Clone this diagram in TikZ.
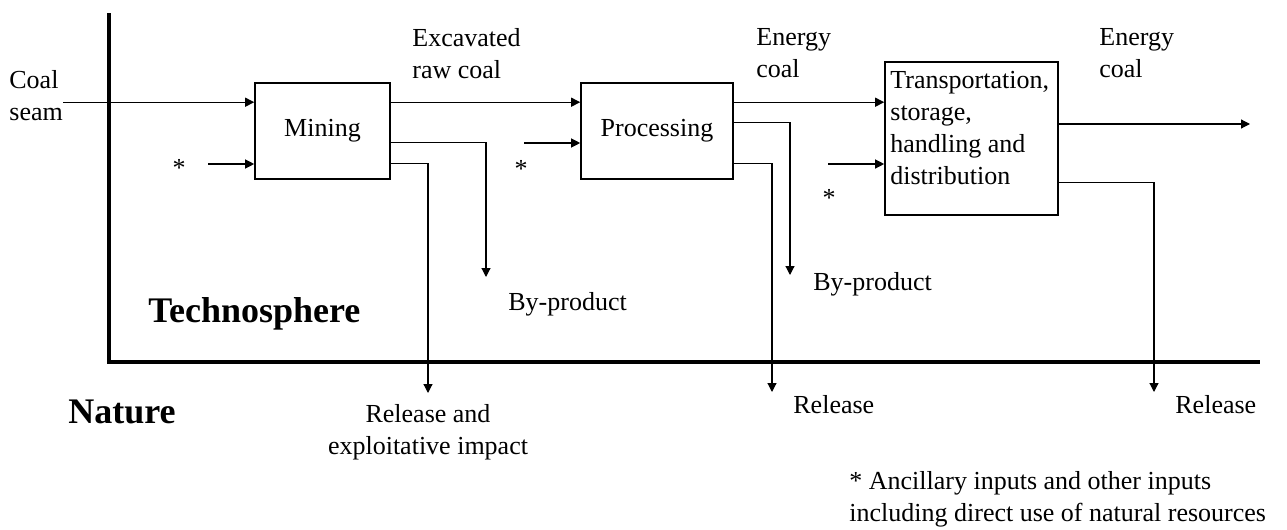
\documentclass[tikz,border=0pt]{standalone}
\usepackage{fontspec}
\setmainfont{Liberation Serif}
\usetikzlibrary{arrows.meta, positioning, calc}
\definecolor{ink}{HTML}{000000}

\begin{document}
\begin{tikzpicture}[x=0.5pt, y=-0.5pt, line cap=butt,
    every node/.style={text=ink, font=\fontsize{13}{16}\selectfont, inner sep=0pt},
    procbox/.style={draw=ink, line width=0.8pt},
    flow/.style={-{Triangle[length=4.5pt, width=4.5pt]}, line width=0.6pt, ink},
    border/.style={ink, line width=1.9pt, line join=miter},
    sphere/.style={font=\fontsize{18}{22}\selectfont\bfseries}
]

% ---------------- canvas (1287 x 530 px), white ----------------
\fill[white] (0,0) rectangle (1287,530);
\useasboundingbox (0,0) rectangle (1287,530);

% ---------------- technosphere / nature boundary ----------------
\draw[border] (109,13) -- (109,362) -- (1260,362);
\node[sphere, anchor=base west] (techno) at (148,322) {Technosphere};
\node[sphere, anchor=base west] (nature) at (68,423) {Nature};

% ---------------- process chain ----------------
\node[procbox, minimum width=67.5pt, minimum height=48pt] (mining) at (322.5,131) {Mining};
\node[procbox, minimum width=76pt, minimum height=48pt] (proc) at (657,131) {Processing};
\node[procbox, minimum width=86.5pt, minimum height=76.5pt] (trans) at (971.5,138.5) {};
\node[anchor=north west, align=left] (translab) at (890,71)
    {Transportation,\\storage,\\handling and\\distribution};

% flow labels
\node[anchor=north west, align=left] (coal) at (9,70) {Coal\\seam};
\node[anchor=north west, align=left] (excav) at (412,28) {Excavated\\raw coal};
\node[anchor=north west, align=left] (ecoal1) at (756,28) {Energy\\coal};
\node[anchor=north west, align=left] (ecoal2) at (1099,28) {Energy\\coal};

% ancillary inputs
\node[anchor=base] (star1) at (179,176) {*};
\node[anchor=base] (star2) at (521,177) {*};
\node[anchor=base] (star3) at (829,206) {*};
\coordinate (in1) at (208,164);
\coordinate (in2) at (524,143);
\coordinate (in3) at (828,164);

% by-products and releases
\coordinate (bp1) at (486,277);
\coordinate (bp2) at (790,275);
\coordinate (rel1) at (428,393);
\coordinate (rel2) at (772,392);
\coordinate (rel3) at (1154,392);
\coordinate (ecout) at (1250,124);
\node[anchor=base west] (bp1lab) at (508,310) {By-product};
\node[anchor=base west] (bp2lab) at (813,290) {By-product};
\node[anchor=north, align=center] (rel1lab) at (428,404) {Release and\\exploitative impact};
\node[anchor=base west] (rel2lab) at (793,413) {Release};
\node[anchor=base west] (rel3lab) at (1175,413) {Release};

% footnote
\node[anchor=north west, align=left] (note) at (849,471)
    {* Ancillary inputs and other inputs\\including direct use of natural resources};

% ---------------- connectors ----------------
\coordinate (main) at ($(mining.north west)+(0,20)$);
\draw[flow] (coal.east |- main) -- (mining.west |- main);
\draw[flow] (mining.east |- main) -- (proc.west |- main);
\draw[flow] (proc.east |- main) -- (trans.west |- main);

\draw[flow] (in1) -- (mining.west |- in1);
\draw[flow] (in2) -- (proc.west |- in2);
\draw[flow] (in3) -- (trans.west |- in3);

\draw[flow] ($(mining.north east)+(0,60)$) -| (bp1);
\draw[flow] ($(mining.north east)+(0,81)$) -| (rel1);
\draw[flow] ($(proc.north east)+(0,40)$) -| (bp2);
\draw[flow] ($(proc.north east)+(0,81)$) -| (rel2);
\draw[flow] (trans.east |- ecout) -- (ecout);
\draw[flow] ($(trans.north east)+(0,121)$) -| (rel3);

\end{tikzpicture}
\end{document}
